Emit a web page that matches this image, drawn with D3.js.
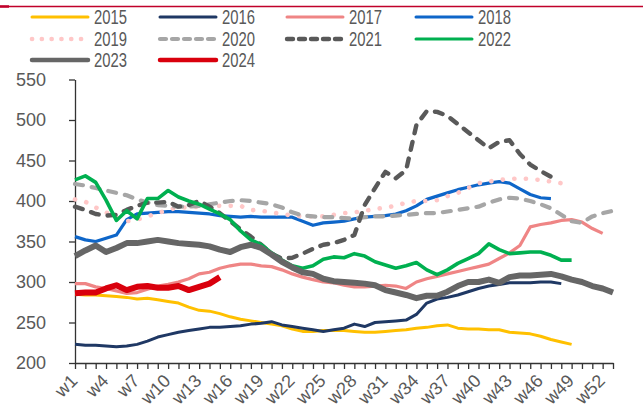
<!DOCTYPE html>
<html>
<head>
<meta charset="utf-8">
<script src="https://cdn.jsdelivr.net/npm/d3@7"></script>
<style>
  body { margin: 0; background: #fff; }
  text { font-family: "Liberation Sans", Arial, sans-serif; fill: #595959; }
</style>
</head>
<body>
<div class="chart"></div>
<script>
var svgWidth = 643;
var svgHeight = 408;

// weeks w1..w53, labels every third week
var weeks = d3.range(1, 54).map(function(i) { return 'w' + i; });
var yTicks = [200, 250, 300, 350, 400, 450, 500, 550];

// series values, one array per year (week 1 onward)
var s2015 = [285, 284, 284, 283, 282, 281, 279, 280, 278, 276, 274, 269, 265, 264, 261, 257, 254, 252, 250, 248,
  246, 242, 239, 239, 240, 240, 240, 239, 238, 238, 239, 240, 241, 243, 244, 246, 247, 243, 242, 242,
  241, 241, 238, 237, 236, 233, 229, 226, 223];
var s2016 = [223, 222, 222, 221, 220, 221, 223, 227, 232, 235, 238, 240, 242, 244, 244, 245, 246, 248, 249, 251,
  247, 245, 243, 241, 239, 241, 243, 248, 245, 250, 251, 252, 253, 260, 274, 279, 281, 284, 288, 292,
  295, 297, 299, 299, 299, 300, 300, 298];
var s2017 = [298, 298, 294, 292, 289, 286, 287, 291, 295, 297, 300, 304, 310, 312, 317, 320, 322, 322, 320, 319,
  315, 310, 306, 303, 300, 299, 296, 294, 294, 295, 296, 295, 292, 300, 304, 307, 310, 313, 316, 319,
  322, 329, 336, 345, 368, 371, 373, 376, 377, 374, 366, 360];
var s2018 = [356, 352, 350, 354, 358, 377, 384, 385, 386, 387, 387, 386, 385, 384, 382, 381, 380, 381, 380, 380,
  380, 380, 375, 370, 373, 374, 375, 378, 380, 381, 382, 384, 388, 394, 402, 406, 410, 414, 417, 420,
  422, 424, 422, 415, 408, 404, 403];
var s2019 = [402, 399, 392, 386, 379, 375, 377, 381, 385, 389, 392, 392, 393, 394, 394, 394, 394, 389, 388, 386,
  384, 382, 381, 381, 381, 383, 385, 386, 388, 390, 392, 394, 398, 400, 400, 401, 406, 410, 416, 422,
  424, 426, 427, 428, 427, 426, 424, 422];
var s2020 = [421, 419, 416, 413, 410, 407, 402, 398, 395, 394, 393, 393, 394, 396, 398, 400, 401, 400, 398, 396,
  392, 386, 382, 381, 380, 380, 379, 378, 380, 381, 381, 382, 383, 384, 385, 385, 387, 389, 391, 393,
  398, 402, 404, 403, 400, 396, 391, 383, 375, 373, 381, 385, 388];
var s2021 = [393, 389, 384, 382, 383, 389, 394, 398, 398, 399, 393, 395, 400, 393, 385, 375, 365, 356, 346, 335,
  329, 330, 335, 341, 346, 348, 352, 358, 395, 416, 436, 428, 438, 494, 511, 510, 505, 495, 485, 475,
  465, 473, 475, 458, 445, 437, 430];
var s2022 = [426, 431, 423, 401, 376, 388, 378, 403, 403, 413, 405, 400, 396, 390, 384, 377, 363, 352, 346, 336,
  327, 320, 317, 320, 328, 331, 330, 335, 332, 325, 321, 317, 320, 324, 315, 309, 315, 323, 329, 335,
  347, 340, 335, 336, 337, 337, 333, 327, 327];
var s2023 = [332, 339, 345, 337, 342, 348, 348, 350, 352, 350, 348, 347, 346, 344, 340, 337, 343, 346, 342, 334,
  325, 318, 312, 310, 304, 301, 300, 299, 298, 296, 290, 287, 284, 280, 283, 283, 288, 295, 300, 300,
  303, 299, 306, 308, 308, 309, 310, 307, 303, 300, 295, 292, 287];
var s2024 = [286, 287, 287, 292, 296, 290, 294, 295, 293, 293, 295, 290, 294, 298, 306];

var years = ['2015', '2016', '2017', '2018', '2019', '2020', '2021', '2022', '2023', '2024'];
var seriesValues = [s2015, s2016, s2017, s2018, s2019, s2020, s2021, s2022, s2023, s2024];

// line styles per year
var styles = {
  '2015': { color: '#FFC000', width: 3, dash: null },
  '2016': { color: '#1F3864', width: 3, dash: null },
  '2017': { color: '#EF8585', width: 3.2, dash: null },
  '2018': { color: '#0E66C9', width: 3.2, dash: null },
  '2019': { color: '#FFC7C7', width: 4.6, dash: '0.1 11.5', legendDash: '0.1 9.7', cap: 'round' },
  '2020': { color: '#A6A6A6', width: 4.2, dash: '8 9', legendDash: '6 6', cap: 'round' },
  '2021': { color: '#595959', width: 4.4, dash: '8 9', legendDash: '6 6', cap: 'round' },
  '2022': { color: '#00B050', width: 3.6, dash: null },
  '2023': { color: '#666666', width: 6, dash: null },
  '2024': { color: '#D9000D', width: 6, dash: null }
};

var svg = d3.select('.chart')
  .append('svg')
  .attr('width', svgWidth)
  .attr('height', svgHeight);

// thin red rule along the top
svg.append('line')
  .attr('x1', 0).attr('x2', svgWidth)
  .attr('y1', 6.5).attr('y2', 6.5)
  .attr('stroke', '#C0002A')
  .attr('stroke-width', 1.5);
svg.append('line')
  .attr('x1', 0).attr('x2', 9)
  .attr('y1', 6.5).attr('y2', 6.5)
  .attr('stroke', '#C0002A')
  .attr('stroke-width', 2.5);

// scales
var xScale = d3.scalePoint()
  .domain(weeks)
  .range([75, 613]);

var yScale = d3.scaleLinear()
  .domain([200, 550])
  .range([363, 79.5]);

// axes
var leftAxis = d3.axisLeft(yScale)
  .tickValues(yTicks)
  .tickSize(6)
  .tickSizeOuter(0)
  .tickPadding(23);

var bottomAxis = d3.axisBottom(xScale)
  .tickSize(6)
  .tickSizeOuter(0)
  .tickFormat(function(d, i) { return i % 3 === 0 ? d : ''; });

var yAxisG = svg.append('g')
  .attr('transform', 'translate(75, 0)')
  .call(leftAxis);
yAxisG.select('.domain').attr('stroke', '#333').attr('stroke-width', 1.3);
yAxisG.selectAll('line').attr('stroke', '#333').attr('stroke-width', 1.3);
yAxisG.selectAll('text')
  .attr('font-size', 18)
  .attr('fill', '#595959');

var xAxisG = svg.append('g')
  .attr('transform', 'translate(0, 363)')
  .call(bottomAxis);
xAxisG.select('.domain').attr('stroke', '#333').attr('stroke-width', 1.3);
xAxisG.selectAll('line').attr('stroke', '#333').attr('stroke-width', 1.3);
// rotated week labels; kept just inside the bottom edge
xAxisG.selectAll('text')
  .attr('font-size', 18)
  .attr('fill', '#595959')
  .attr('text-anchor', 'end')
  .attr('y', 0)
  .attr('dy', 0)
  .attr('transform', 'translate(3, 19) rotate(-45)');

// lines
var line = d3.line()
  .x(function(d) { return xScale(d.week); })
  .y(function(d) { return yScale(d.value); });

years.forEach(function(year, k) {
  var st = styles[year];
  var data = seriesValues[k].map(function(v, i) { return { week: weeks[i], value: v }; });
  svg.append('path')
    .datum(data)
    .attr('fill', 'none')
    .attr('stroke', st.color)
    .attr('stroke-width', st.width)
    .attr('stroke-linejoin', 'round')
    .attr('stroke-linecap', st.cap || 'butt')
    .attr('stroke-dasharray', st.dash)
    .attr('d', line);
});

// legend, four columns
var legendCols = [32, 160, 287, 416];
var legendRows = [17, 39, 60];

var legend = svg.append('g');
years.forEach(function(year, k) {
  var st = styles[year];
  var lx = legendCols[k % 4];
  var ly = legendRows[Math.floor(k / 4)];
  var thick = (year === '2023' || year === '2024') ? 4.5 : (st.dash ? st.width : 3);
  legend.append('line')
    .attr('x1', lx).attr('x2', lx + 56)
    .attr('y1', ly).attr('y2', ly)
    .attr('stroke', st.color)
    .attr('stroke-width', thick)
    .attr('stroke-linecap', 'round')
    .attr('stroke-dasharray', st.legendDash || null);
  legend.append('text')
    .attr('x', lx + 62)
    .attr('y', ly + 7)
    .attr('font-size', 20)
    .attr('textLength', 33)
    .attr('lengthAdjust', 'spacingAndGlyphs')
    .text(year);
});
</script>
</body>
</html>
